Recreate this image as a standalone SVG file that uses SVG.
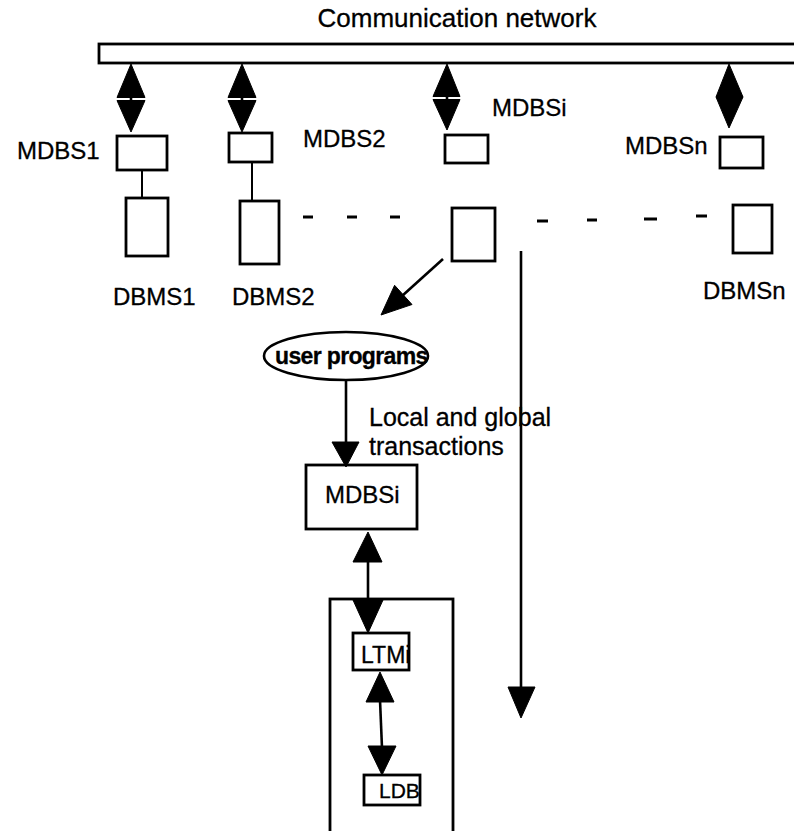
<svg xmlns="http://www.w3.org/2000/svg" width="794" height="831" viewBox="0 0 794 831">
  <style>
    .box { fill: #fff; stroke: #000; stroke-width: 2.8; }
    .ln { fill: none; stroke: #000; stroke-width: 2.6; }
    .thin { fill: none; stroke: #000; stroke-width: 2; }
    .head { fill: #000; stroke: #000; stroke-width: 1; stroke-linejoin: round; }
    .dash { stroke: #000; stroke-width: 3; }
    text { font-family: "Liberation Sans", Arial, Helvetica, sans-serif; fill: #000; stroke: #000; stroke-width: 0.3; }
    .lbl { font-size: 24px; }
  </style>
  <rect width="794" height="831" fill="#fff"/>

  <!-- network bus -->
  <g id="network">
    <text x="457" y="27" font-size="26" text-anchor="middle">Communication network</text>
    <rect class="box" x="99" y="44" width="710" height="19"/>
  </g>

  <!-- MDBS nodes -->
  <g id="mdbs1">
    <rect class="box" x="117" y="136" width="50" height="34"/>
    <text class="lbl" x="17" y="159">MDBS1</text>
  </g>
  <g id="mdbs2">
    <rect class="box" x="229" y="133" width="43" height="29"/>
    <text class="lbl" x="303" y="147">MDBS2</text>
  </g>
  <g id="mdbsi-top">
    <rect class="box" x="445" y="135" width="43" height="28"/>
    <text class="lbl" x="492" y="116">MDBSi</text>
  </g>
  <g id="mdbsn">
    <rect class="box" x="720" y="137" width="43" height="31"/>
    <text class="lbl" x="625" y="154">MDBSn</text>
  </g>

  <!-- DBMS nodes -->
  <g id="dbms1">
    <rect class="box" x="126" y="198" width="42" height="58"/>
    <text class="lbl" x="113" y="305">DBMS1</text>
  </g>
  <g id="dbms2">
    <rect class="box" x="240" y="201" width="39" height="63"/>
    <text class="lbl" x="232" y="305">DBMS2</text>
  </g>
  <g id="dbmsi">
    <rect class="box" x="452" y="208" width="43" height="53"/>
  </g>
  <g id="dbmsn">
    <rect class="box" x="733" y="205" width="39" height="48"/>
    <text class="lbl" x="703" y="299">DBMSn</text>
  </g>

  <!-- local site detail -->
  <g id="user-programs">
    <ellipse cx="346" cy="356" rx="82" ry="24" fill="#fff" stroke="#000" stroke-width="2.6"/>
    <text x="275" y="364" font-size="23" font-weight="bold" letter-spacing="-1.3" textLength="152">user programs</text>
  </g>
  <g id="mdbsi">
    <rect class="box" x="306" y="465" width="111" height="64"/>
    <text x="325" y="503" font-size="24">MDBSi</text>
  </g>
  <g id="local-site">
    <rect class="box" x="330" y="599" width="123" height="250"/>
  </g>
  <g id="ltmi">
    <rect class="box" x="353" y="633" width="56" height="37"/>
    <text x="361" y="663" font-size="23">LTMi</text>
  </g>
  <g id="ldb">
    <rect class="box" x="364" y="775" width="56" height="30"/>
    <text x="379" y="798" font-size="21">LDB</text>
  </g>

  <g id="edge-label">
    <text x="369" y="426" font-size="25">Local and global</text>
    <text x="369" y="455" font-size="25">transactions</text>
  </g>

  <!-- connectors -->
  <g id="connectors">
    <!-- bus links: double arrowheads -->
    <g>
      <line class="ln" x1="131" y1="96" x2="131" y2="102"/>
      <polygon class="head" points="131,64 117,97.5 145,97.5"/>
      <polygon class="head" points="117,100.5 145,100.5 131,132"/>
    </g>
    <g>
      <line class="ln" x1="242" y1="96" x2="242" y2="102"/>
      <polygon class="head" points="242,64 228,97.5 256,97.5"/>
      <polygon class="head" points="228,100.5 256,100.5 242,132"/>
    </g>
    <g>
      <line class="ln" x1="447" y1="95" x2="447" y2="101"/>
      <polygon class="head" points="447,64 433,96.5 460,96.5"/>
      <polygon class="head" points="433,99.5 460,99.5 447,130"/>
    </g>
    <g>
      <polygon class="head" points="729,64 716,97 743,97"/>
      <polygon class="head" points="716,97 743,97 729,128"/>
    </g>

    <!-- MDBS to DBMS links -->
    <line class="thin" x1="142" y1="170" x2="142" y2="198"/>
    <line class="thin" x1="252" y1="162" x2="252" y2="201"/>

    <!-- ellipsis dashes -->
    <line class="dash" x1="303" y1="217" x2="313" y2="217"/>
    <line class="dash" x1="347" y1="217" x2="357" y2="217"/>
    <line class="dash" x1="390" y1="217" x2="400" y2="217"/>
    <line class="dash" x1="537" y1="221" x2="548" y2="221"/>
    <line class="dash" x1="587" y1="220" x2="597" y2="220"/>
    <line class="dash" x1="644" y1="219" x2="657" y2="219"/>
    <line class="dash" x1="696" y1="216" x2="707" y2="216"/>

    <!-- DBMSi expands to local site -->
    <line class="ln" x1="443" y1="259" x2="402" y2="296"/>
    <polygon class="head" points="381,315 394.6,285.3 412,304.5"/>

    <!-- long downward arrow -->
    <line class="ln" x1="521" y1="251" x2="521" y2="690"/>
    <polygon class="head" points="508,687 535,687 521,718"/>

    <!-- user programs to MDBSi -->
    <line class="ln" x1="346" y1="380" x2="346" y2="444"/>
    <polygon class="head" points="332,442 359,442 346,467"/>

    <!-- MDBSi to LTMi -->
    <polygon class="head" points="368,532 353,562 382,562"/>
    <line class="ln" x1="368" y1="560" x2="368" y2="602"/>
    <polygon class="head" points="353,600 383,600 368,633"/>

    <!-- LTMi to LDB -->
    <polygon class="head" points="380,672 366,702 394,702"/>
    <line class="ln" x1="380" y1="700" x2="382" y2="748"/>
    <polygon class="head" points="368,746 396,746 382,775"/>
  </g>
</svg>
